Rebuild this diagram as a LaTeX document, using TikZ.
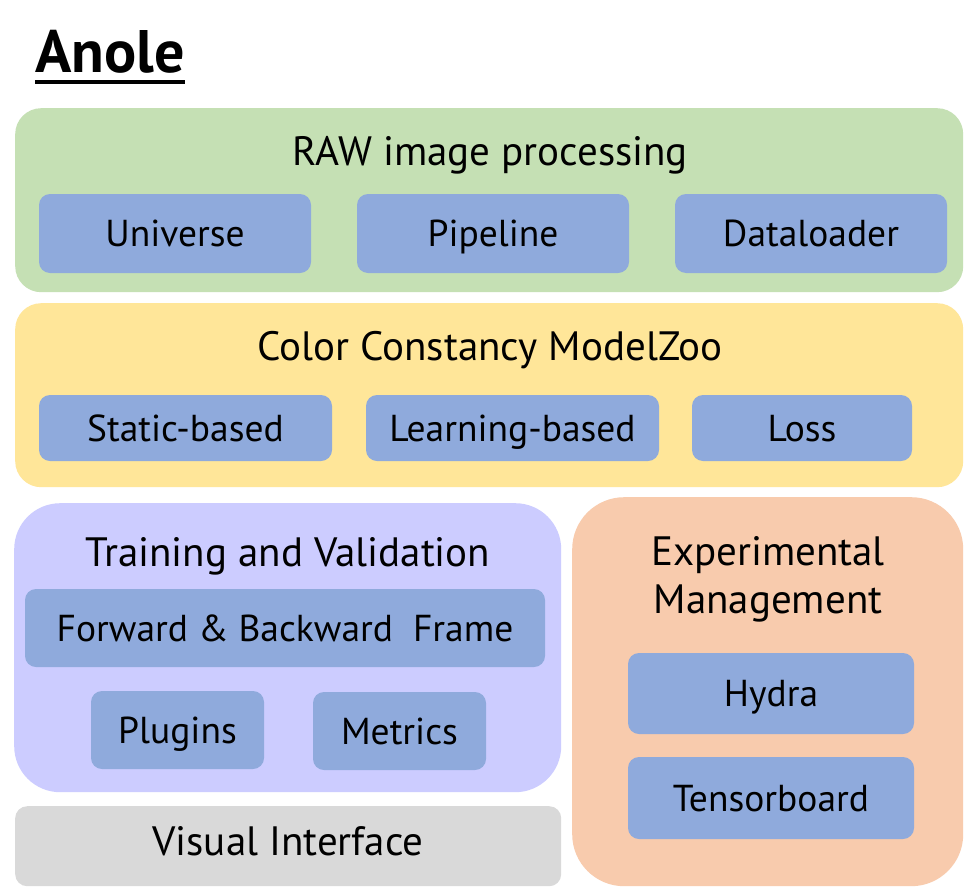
\documentclass[tikz,border=0pt]{standalone}
\usepackage{fontspec}
\setmainfont{PT Sans}
\definecolor{rawgreen}{HTML}{C5E0B4}
\definecolor{zooyellow}{HTML}{FFE699}
\definecolor{itemblue}{HTML}{8FAADC}
\definecolor{trainpurple}{HTML}{CCCCFF}
\definecolor{exporange}{HTML}{F8CBAD}
\definecolor{uigray}{HTML}{D9D9D9}
\tikzset{
  group/.style={draw=none, inner sep=0pt, anchor=north west},
  item/.style={draw=none, fill=itemblue, rounded corners=11pt, inner sep=0pt,
    font=\fontsize{37.5}{42}\selectfont, text height=26pt, text depth=0pt},
  grouptitle/.style={anchor=base, inner sep=0pt, font=\fontsize{41}{45}\selectfont},
}
\begin{document}
\begin{tikzpicture}[x=1pt,y=-1pt]
\useasboundingbox[fill=white] (0,0) rectangle (965,891);

% title with underline
\node[anchor=base west, inner sep=0pt, font=\bfseries\fontsize{60}{64}\selectfont] (title) at (35,72) {Anole};
\draw[line width=4pt] (title.base west) ++(0,10) coordinate (ul1) -- (title.base east |- ul1);

% RAW image processing
\node[group, fill=rawgreen, rounded corners=26pt, minimum width=948pt, minimum height=184pt] (raw) at (15,108) {};
\node[grouptitle] (rawt) at (490,165) {RAW image processing};
\node[item, minimum width=272pt, minimum height=79pt] (universe) at (175,233.5) {Universe};
\node[item, minimum width=272pt, minimum height=79pt] (pipeline) at (493,233.5) {Pipeline};
\node[item, minimum width=272pt, minimum height=79pt] (dataloader) at (811,233.5) {Dataloader};

% Color Constancy ModelZoo
\node[group, fill=zooyellow, rounded corners=26pt, minimum width=948pt, minimum height=184pt] (zoo) at (15,303) {};
\node[grouptitle] (zoot) at (490,360) {Color Constancy ModelZoo};
\node[item, minimum width=293pt, minimum height=66pt] (static) at (185.5,428) {Static-based};
\node[item, minimum width=293pt, minimum height=66pt] (learning) at (512.5,428) {Learning-based};
\node[item, minimum width=220pt, minimum height=66pt] (loss) at (802,428) {Loss};

% Training and Validation
\node[group, fill=trainpurple, rounded corners=46pt, minimum width=547pt, minimum height=289pt] (train) at (14,503) {};
\node[grouptitle] (traint) at (288,566) {Training and Validation};
\node[item, minimum width=520pt, minimum height=78pt] (frame) at (285,628) {Forward \& Backward\ \ Frame};
\node[item, minimum width=173pt, minimum height=78pt] (plugins) at (177.5,730) {Plugins};
\node[item, minimum width=173pt, minimum height=78pt] (metrics) at (399.5,731) {Metrics};

% Visual Interface
\node[group, fill=uigray, rounded corners=12pt, minimum width=546pt, minimum height=80pt] (ui) at (15,806) {};
\node[grouptitle] (uit) at (288,855) {Visual Interface};

% Experimental Management
\node[group, fill=exporange, rounded corners=52pt, minimum width=391pt, minimum height=389pt] (exp) at (572,497) {};
\node[grouptitle] (expt1) at (768,565) {Experimental};
\node[grouptitle] (expt2) at (768,613) {Management};
\node[item, minimum width=286pt, minimum height=81pt] (hydra) at (771,693.5) {Hydra};
\node[item, minimum width=286pt, minimum height=82pt] (tboard) at (771,798) {Tensorboard};
\end{tikzpicture}
\end{document}
